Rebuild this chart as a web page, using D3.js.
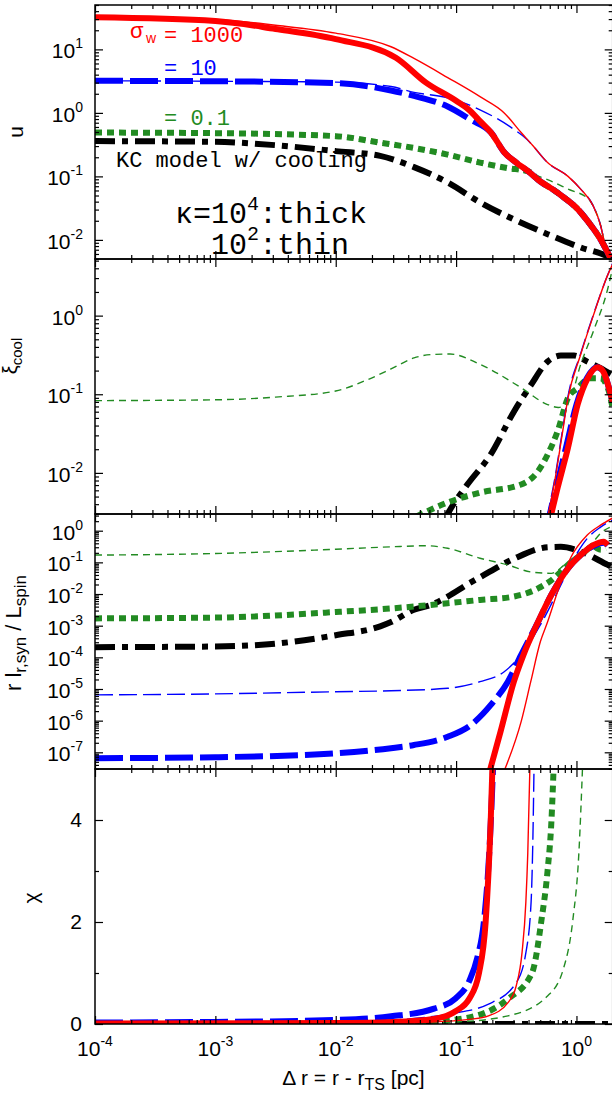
<!DOCTYPE html>
<html><head><meta charset="utf-8">
<script src="https://cdn.jsdelivr.net/npm/d3@7"></script>
<style>body{margin:0;background:#fff}svg{display:block}</style>
</head><body>
<svg id="c" width="612" height="1093"></svg>
<script>
// ---------------- DATA ----------------
const xMajorTicks = [1e-4, 1e-3, 1e-2, 1e-1, 1];
const xTickExps = ["-4", "-3", "-2", "-1", "0"];

// Panel 1: u
const uTicks = [1e-2, 1e-1, 1, 10];
const uTickExps = ["-2", "-1", "0", "1"];
const uKC = [[0.0001,0.36],[0.001,0.35],[0.00316,0.31],[0.01,0.25],[0.0234,0.21],[0.0447,0.14],[0.0851,0.08],[0.158,0.039],[0.302,0.021],[0.575,0.0123],[1.084,0.0076],[1.82,0.0055],[2,0.005]];
const uGreenThin = [[0.0001,0.49],[0.001,0.48],[0.01,0.43],[0.0234,0.34],[0.0447,0.28],[0.0851,0.22],[0.158,0.165],[0.269,0.135],[0.363,0.118],[0.575,0.089],[0.851,0.063],[1.259,0.044],[1.38,0.034],[1.585,0.017],[1.738,0.008],[1.905,0.005]];
const uGreenThick = [[0.0001,0.49],[0.001,0.48],[0.01,0.43],[0.0234,0.34],[0.0447,0.28],[0.0851,0.22],[0.158,0.165],[0.269,0.135],[0.398,0.12],[0.501,0.083],[0.631,0.063],[0.794,0.046],[1,0.032],[1.259,0.019],[1.585,0.0102],[1.905,0.0053]];
const uBlueThin = [[0.0001,3.2],[0.001,3.15],[0.01,3.05],[0.0288,2.6],[0.0447,2.1],[0.0851,1.73],[0.158,1.12],[0.302,0.55],[0.389,0.38],[0.437,0.3],[0.575,0.165],[0.851,0.1],[1.084,0.063],[1.38,0.034],[1.585,0.017],[1.738,0.008],[1.905,0.005]];
const uBlueThick = [[0.0001,3.2],[0.001,3.15],[0.01,2.95],[0.0288,2.25],[0.0447,1.85],[0.0851,1.26],[0.132,0.78],[0.195,0.49],[0.251,0.24],[0.316,0.165],[0.398,0.12],[0.501,0.083],[0.631,0.063],[0.794,0.046],[1,0.032],[1.259,0.019],[1.585,0.0102],[1.905,0.0053]];
const uRedThin = [[0.0001,32],[0.001,29.5],[0.00316,24],[0.01,18],[0.0288,11],[0.0447,7.2],[0.0851,3.6],[0.158,1.8],[0.251,1.0],[0.347,0.49],[0.437,0.3],[0.575,0.165],[0.851,0.1],[1.084,0.063],[1.38,0.034],[1.585,0.017],[1.738,0.008],[1.905,0.005]];
const uRedThick = [[0.0001,32],[0.001,28],[0.00316,21],[0.01,14.5],[0.0316,7.4],[0.0562,3.0],[0.1,1.55],[0.129,1.1],[0.158,0.74],[0.2,0.46],[0.251,0.24],[0.316,0.165],[0.398,0.12],[0.501,0.083],[0.631,0.063],[0.794,0.046],[1,0.032],[1.259,0.019],[1.585,0.0102],[1.905,0.0053]];

// Panel 2: xi_cool
const xiTicks = [1e-2, 1e-1, 1];
const xiTickExps = ["-2", "-1", "0"];
const xiKC = [[0.08,0.0025],[0.0851,0.003],[0.124,0.0071],[0.193,0.017],[0.302,0.06],[0.417,0.13],[0.575,0.26],[0.741,0.31],[0.955,0.31],[1.23,0.26],[1.585,0.215],[1.93,0.18]];
const xiGreenThin = [[0.0001,0.083],[0.001,0.085],[0.00316,0.092],[0.01,0.11],[0.0178,0.15],[0.0288,0.21],[0.0447,0.29],[0.0631,0.32],[0.0891,0.325],[0.158,0.24],[0.347,0.121],[0.575,0.074],[0.708,0.068],[0.891,0.09],[1.084,0.24],[1.38,0.63],[1.82,2.2],[1.995,4]];
const xiGreenThick = [[0.047,0.0028],[0.0851,0.0042],[0.158,0.0056],[0.347,0.0071],[0.479,0.0105],[0.575,0.017],[0.698,0.034],[0.851,0.09],[1.023,0.12],[1.31,0.16],[1.585,0.16],[1.82,0.12],[1.995,0.068]];
const xiBlueThin = [[0.56,0.0025],[0.661,0.0085],[0.759,0.032],[0.851,0.095],[1.084,0.33],[1.38,1.02],[1.82,3.3],[1.995,4.6]];
const xiBlueThick = [[0.59,0.0025],[0.68,0.0065],[0.83,0.023],[1.0,0.074],[1.22,0.16],[1.48,0.22],[1.683,0.19],[1.862,0.12],[1.995,0.08]];
const xiRedThin = [[0.57,0.0025],[0.661,0.008],[0.759,0.03],[0.851,0.09],[1.084,0.32],[1.38,1.0],[1.82,3.3],[1.995,4.5]];
const xiRedThick = [[0.6,0.0025],[0.698,0.0065],[0.851,0.021],[1.023,0.074],[1.24,0.16],[1.5,0.22],[1.683,0.19],[1.862,0.12],[1.995,0.08]];

// Panel 3: r l_{r,syn} / L_spin
const rlTicks = [1e-7, 1e-6, 1e-5, 1e-4, 1e-3, 1e-2, 1e-1, 1];
const rlTickExps = ["-7", "-6", "-5", "-4", "-3", "-2", "-1", "0"];
const rlKC = [[0.0001,0.00021],[0.001,0.00022],[0.00316,0.00027],[0.01,0.0005],[0.0234,0.00095],[0.0288,0.0013],[0.0447,0.0032],[0.0617,0.0045],[0.0851,0.0083],[0.129,0.022],[0.158,0.034],[0.302,0.13],[0.575,0.3],[0.741,0.31],[1.084,0.22],[1.82,0.083],[1.995,0.07]];
const rlGreenThin = [[0.0001,0.17],[0.001,0.19],[0.01,0.26],[0.0288,0.31],[0.0562,0.335],[0.0851,0.28],[0.158,0.135],[0.269,0.083],[0.417,0.05],[0.617,0.045],[0.794,0.083],[1.084,0.22],[1.38,0.45],[1.585,0.83],[1.995,1.4]];
const rlGreenThick = [[0.0001,0.0017],[0.001,0.0018],[0.01,0.0027],[0.0288,0.0035],[0.0851,0.0051],[0.158,0.0065],[0.302,0.0083],[0.479,0.015],[0.617,0.027],[0.851,0.083],[1.084,0.17],[1.38,0.31],[1.6,0.25],[1.75,0.28]];
const rlBlueThin = [[0.0001,6.5e-6],[0.001,7e-6],[0.01,8.2e-6],[0.0288,8.8e-6],[0.0851,1.05e-5],[0.158,1.7e-5],[0.251,3.5e-5],[0.347,0.00012],[0.501,0.00105],[0.698,0.012],[0.955,0.135],[1.23,0.57],[1.585,1.3],[1.995,2.2]];
const rlBlueThick = [[0.0001,6.5e-8],[0.001,7e-8],[0.01,9.3e-8],[0.0288,1.35e-7],[0.0447,1.7e-7],[0.0851,3.1e-7],[0.132,7.2e-7],[0.195,3.2e-6],[0.269,1.7e-5],[0.347,0.00012],[0.479,0.0013],[0.617,0.0093],[0.851,0.065],[1.084,0.17],[1.38,0.33],[1.683,0.42],[1.82,0.35]];
const rlRedThin = [[0.25,2.5e-8],[0.347,9.3e-7],[0.417,1.7e-5],[0.501,0.00031],[0.575,0.0013],[0.698,0.012],[0.891,0.135],[1.23,0.73],[1.585,1.5],[1.995,2.5]];
const rlRedThick = [[0.19,2.5e-8],[0.234,4.5e-7],[0.302,1.7e-5],[0.363,0.00012],[0.479,0.0013],[0.617,0.0093],[0.851,0.065],[1.084,0.17],[1.38,0.35],[1.683,0.45],[1.82,0.35]];

// Panel 4: chi
const chiTicks = [0, 2, 4];
const chiMinorTicks = [1, 3];
const chiKC = [[0.0001,0],[2,0]];
const chiGreenThin = [[0.0001,0.0],[0.03,0.01],[0.1,0.04],[0.27,0.16],[0.575,0.55],[0.776,1.07],[0.934,2.05],[1.047,3.35],[1.13,5.2]];
const chiGreenThick = [[0.0001,0.0],[0.01,0.005],[0.05,0.03],[0.129,0.13],[0.27,0.49],[0.427,1.0],[0.513,2.05],[0.575,3.0],[0.62,4.0],[0.65,5.2]];
const chiBlueThin = [[0.0001,0.02],[0.01,0.04],[0.0316,0.08],[0.089,0.2],[0.186,0.39],[0.316,0.81],[0.38,1.4],[0.42,2.4],[0.435,3.7],[0.445,5.2]];
const chiBlueThick = [[0.0001,0.03],[0.001,0.04],[0.01,0.08],[0.0288,0.15],[0.0656,0.3],[0.0989,0.5],[0.129,0.85],[0.15,1.3],[0.17,2.0],[0.19,3.5],[0.205,5.3]];
const chiRedThin = [[0.0001,0.005],[0.01,0.01],[0.0631,0.04],[0.129,0.09],[0.186,0.16],[0.27,0.42],[0.316,0.75],[0.353,1.4],[0.38,2.4],[0.394,3.35],[0.412,5.2]];
const chiRedThick = [[0.0001,0.01],[0.01,0.02],[0.03,0.04],[0.0656,0.1],[0.0989,0.25],[0.129,0.5],[0.155,1.0],[0.176,2.0],[0.194,4.0],[0.202,5.3]];

// ---------------- STYLES / LAYOUT ----------------
const GREEN = "#228B22", BLUE = "#0000FF", RED = "#FF0000";
const styles = {
  kc:         {color:"#000", w:6,   dash:"20,7,6,7"},
  greenThin:  {color:GREEN,  w:1.4, dash:"7,5"},
  greenThick: {color:GREEN,  w:6,   dash:"7,5"},
  blueThin:   {color:BLUE,   w:1.4, dash:"18,6"},
  blueThick:  {color:BLUE,   w:6,   dash:"28,7"},
  redThin:    {color:RED,    w:1.4, dash:null},
  redThick:   {color:RED,    w:6,   dash:null}
};
const SANS = "'Liberation Sans', Arial, Helvetica, sans-serif";
const MONO = "'Liberation Mono', 'Courier New', monospace";
const LEFT = 95, RIGHT = 612.7;

const svg = d3.select("#c");
const x = d3.scaleLog().domain([1e-4, 2]).range([LEFT, RIGHT]);

function logTicks(lo, hi) {
  const maj = [], min = [];
  for (let e = Math.floor(Math.log10(lo)); e <= Math.ceil(Math.log10(hi)); e++) {
    for (let k = 1; k < 10; k++) {
      const v = k * Math.pow(10, e);
      if (v < lo * 0.9999 || v > hi * 1.0001) continue;
      (k === 1 ? maj : min).push(v);
    }
  }
  return {maj, min};
}

const panels = [
  {id:"p1", top:5,   bottom:259,  y:d3.scaleLog().domain([0.005, 50]).range([259, 5]),
   series:{kc:uKC, greenThin:uGreenThin, greenThick:uGreenThick, blueThin:uBlueThin, blueThick:uBlueThick, redThin:uRedThin, redThick:uRedThick},
   ticks:uTicks, exps:uTickExps},
  {id:"p2", top:259, bottom:514,  y:d3.scaleLog().domain([0.003, 5.25]).range([514, 259]),
   series:{kc:xiKC, greenThin:xiGreenThin, greenThick:xiGreenThick, blueThin:xiBlueThin, blueThick:xiBlueThick, redThin:xiRedThin, redThick:xiRedThick},
   ticks:xiTicks, exps:xiTickExps},
  {id:"p3", top:514, bottom:769,  y:d3.scaleLog().domain([2.97e-8, 3.37]).range([769, 514]),
   series:{kc:rlKC, greenThin:rlGreenThin, greenThick:rlGreenThick, blueThin:rlBlueThin, blueThick:rlBlueThick, redThin:rlRedThin, redThick:rlRedThick},
   ticks:rlTicks, exps:rlTickExps},
  {id:"p4", top:769, bottom:1024, y:d3.scaleLinear().domain([0, 5]).range([1024, 769]), linear:true,
   series:{kc:chiKC, greenThin:chiGreenThin, greenThick:chiGreenThick, blueThin:chiBlueThin, blueThick:chiBlueThick, redThin:chiRedThin, redThick:chiRedThick},
   ticks:chiTicks}
];

const defs = svg.append("defs");
const xt = logTicks(1e-4, 2);
const order = ["kc","greenThin","greenThick","blueThin","blueThick","redThin","redThick"];

panels.forEach(p => {
  const g = svg.append("g");
  defs.append("clipPath").attr("id", "clip-" + p.id)
    .append("rect").attr("x", LEFT).attr("y", p.top).attr("width", RIGHT - LEFT).attr("height", p.bottom - p.top);

  // curves
  const cg = g.append("g").attr("clip-path", `url(#clip-${p.id})`);
  const line = d3.line().x(d => x(d[0])).y(d => p.y(d[1])).curve(d3.curveMonotoneX);
  order.forEach(k => {
    const st = styles[k];
    cg.append("path").datum(p.series[k])
      .attr("d", line)
      .attr("fill", "none")
      .attr("stroke", st.color)
      .attr("stroke-width", st.w)
      .attr("stroke-dasharray", st.dash)
      .attr("stroke-linejoin", "round")
      .attr("stroke-linecap", "butt");
  });

  // axes (ticks only, inward)
  const add = (axis, tr) => g.append("g").attr("transform", tr).call(axis)
    .call(s => { s.select(".domain").remove(); s.selectAll("line").attr("stroke", "#000").attr("stroke-width", 1.2); s.selectAll("text").remove(); });
  add(d3.axisBottom(x).tickValues(xt.maj).tickSize(-8).tickFormat(""), `translate(0,${p.bottom})`);
  add(d3.axisBottom(x).tickValues(xt.min).tickSize(-4).tickFormat(""), `translate(0,${p.bottom})`);
  add(d3.axisTop(x).tickValues(xt.maj).tickSize(-8).tickFormat(""), `translate(0,${p.top})`);
  add(d3.axisTop(x).tickValues(xt.min).tickSize(-4).tickFormat(""), `translate(0,${p.top})`);
  let yMaj, yMin;
  if (p.linear) { yMaj = p.ticks; yMin = chiMinorTicks; }
  else { const t = logTicks(p.y.domain()[0], p.y.domain()[1]); yMaj = t.maj; yMin = t.min; }
  add(d3.axisLeft(p.y).tickValues(yMaj).tickSize(-8).tickFormat(""), `translate(${LEFT},0)`);
  add(d3.axisLeft(p.y).tickValues(yMin).tickSize(-4).tickFormat(""), `translate(${LEFT},0)`);
  add(d3.axisRight(p.y).tickValues(yMaj).tickSize(-8).tickFormat(""), `translate(${RIGHT},0)`);
  add(d3.axisRight(p.y).tickValues(yMin).tickSize(-4).tickFormat(""), `translate(${RIGHT},0)`);

  // border
  g.append("rect").attr("x", LEFT).attr("y", p.top).attr("width", RIGHT - LEFT).attr("height", p.bottom - p.top)
    .attr("fill", "none").attr("stroke", "#000").attr("stroke-width", 1.5);

  // y tick labels
  if (p.linear) {
    p.ticks.forEach(v => {
      g.append("text").attr("x", 82).attr("y", p.y(v) + 7).attr("text-anchor", "end")
        .attr("font-family", SANS).attr("font-size", 21).text(String(v));
    });
  } else {
    p.ticks.forEach((v, i) => {
      const t = g.append("text").attr("x", 83).attr("y", p.y(v) + 9).attr("text-anchor", "end")
        .attr("font-family", SANS).attr("font-size", 21);
      t.append("tspan").text("10");
      t.append("tspan").attr("dy", -10).attr("font-size", 14).text(p.exps[i]);
    });
  }
});

// x tick labels (bottom)
xMajorTicks.forEach((v, i) => {
  const t = svg.append("text").attr("x", x(v)).attr("y", 1056).attr("text-anchor", "middle")
    .attr("font-family", SANS).attr("font-size", 21);
  t.append("tspan").text("10");
  t.append("tspan").attr("dy", -10).attr("font-size", 14).text(xTickExps[i]);
});

// axis titles
const xt1 = svg.append("text").attr("x", 353.5).attr("y", 1085).attr("text-anchor", "middle")
  .attr("font-family", SANS).attr("font-size", 21);
xt1.append("tspan").text("Δ r = r - r");
xt1.append("tspan").attr("dy", 5).attr("font-size", 16).text("TS");
xt1.append("tspan").attr("dy", -5).text(" [pc]");

svg.append("text").attr("transform", "translate(23,132) rotate(-90)").attr("text-anchor", "middle")
  .attr("font-family", SANS).attr("font-size", 21).text("u");

const yl2 = svg.append("text").attr("transform", "translate(17,356) rotate(-90)").attr("text-anchor", "middle")
  .attr("font-family", SANS).attr("font-size", 20);
yl2.append("tspan").text("ξ");
yl2.append("tspan").attr("dy", 5).attr("font-size", 15).text("cool");

const yl3 = svg.append("text").attr("transform", "translate(21,633) rotate(-90)").attr("text-anchor", "middle")
  .attr("font-family", SANS).attr("font-size", 22);
yl3.append("tspan").text("r l");
yl3.append("tspan").attr("dy", 5).attr("font-size", 17).text("r,syn");
yl3.append("tspan").attr("dy", -5).text(" / L");
yl3.append("tspan").attr("dy", 5).attr("font-size", 17).text("spin");

svg.append("text").attr("transform", "translate(38,898) rotate(-90)").attr("text-anchor", "middle")
  .attr("font-family", SANS).attr("font-size", 21).text("χ");

// annotations in panel 1
svg.append("text").attr("x", 130).attr("y", 38).attr("font-family", SANS).attr("font-size", 22).attr("fill", RED).text("σ");
svg.append("text").attr("x", 146).attr("y", 43).attr("font-family", SANS).attr("font-size", 14).attr("fill", RED).text("w");
svg.append("text").attr("x", 164).attr("y", 41.5).attr("font-family", MONO).attr("font-size", 22).attr("fill", RED).attr("xml:space","preserve").text("= 1000");
svg.append("text").attr("x", 164).attr("y", 75).attr("font-family", MONO).attr("font-size", 22).attr("fill", BLUE).text("= 10");
svg.append("text").attr("x", 164).attr("y", 125).attr("font-family", MONO).attr("font-size", 22).attr("fill", GREEN).text("= 0.1");
svg.append("text").attr("x", 116).attr("y", 167).attr("font-family", MONO).attr("font-size", 22).attr("fill", "#000").text("KC model w/ cooling");

const k1 = svg.append("text").attr("x", 175).attr("y", 223).attr("font-family", MONO).attr("font-size", 30).attr("fill", "#000");
k1.append("tspan").text("κ=10");
k1.append("tspan").attr("dy", -13).attr("font-size", 20).text("4");
k1.append("tspan").attr("dy", 13).text(":thick");
const k2 = svg.append("text").attr("x", 211).attr("y", 254).attr("font-family", MONO).attr("font-size", 30).attr("fill", "#000");
k2.append("tspan").text("10");
k2.append("tspan").attr("dy", -14).attr("font-size", 20).text("2");
k2.append("tspan").attr("dy", 14).text(":thin");
</script>
</body></html>
